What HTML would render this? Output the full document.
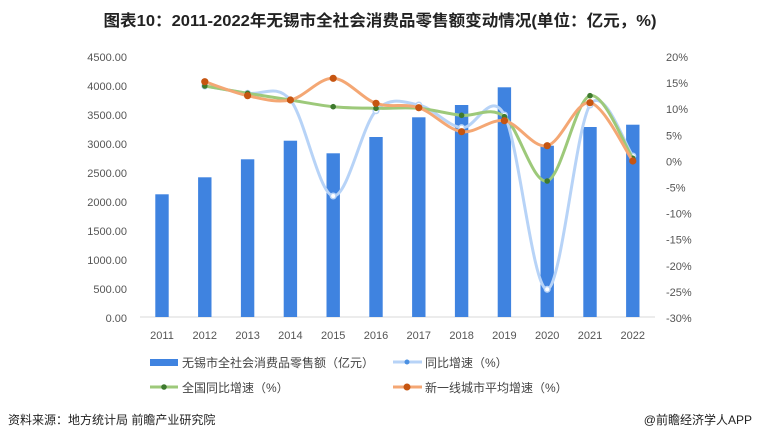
<!DOCTYPE html>
<html><head><meta charset="utf-8"><style>
body{margin:0;background:#fff;width:760px;height:441px;overflow:hidden;font-family:"Liberation Sans","Noto Sans CJK SC",sans-serif;}
</style></head><body>
<svg id="s" width="760" height="441" xmlns="http://www.w3.org/2000/svg" font-family="Liberation Sans, Noto Sans CJK SC, sans-serif">
<text x="380" y="26" text-anchor="middle" font-size="16" font-weight="bold" fill="#222" textLength="553" lengthAdjust="spacingAndGlyphs">图表10：2011-2022年无锡市全社会消费品零售额变动情况(单位：亿元，%)</text>
<g font-size="11" fill="#555" text-anchor="end">
<text x="127" y="61">4500.00</text><text x="127" y="90">4000.00</text><text x="127" y="119">3500.00</text><text x="127" y="148">3000.00</text><text x="127" y="177">2500.00</text><text x="127" y="206">2000.00</text><text x="127" y="235">1500.00</text><text x="127" y="264">1000.00</text><text x="127" y="293">500.00</text><text x="127" y="322">0.00</text>
</g>
<g font-size="11" fill="#555" text-anchor="start" id="r"></g>
<g font-size="11" fill="#555" text-anchor="middle" id="xl"></g>
<line x1="140" y1="317" x2="655" y2="317" stroke="#d9d9d9"/>
<g id="bars" fill="#3f83e0"></g>
<g id="lines"></g>
<g font-size="12" fill="#444">
<rect x="150" y="359" width="28" height="7" fill="#3f83e0"/>
<text x="182" y="367">无锡市全社会消费品零售额（亿元）</text>
<line x1="393" y1="362" x2="422" y2="362" stroke="#b7d3f7" stroke-width="3"/><circle cx="407" cy="362" r="2.5" fill="#4a90e2"/>
<text x="425" y="367">同比增速（%）</text>
<line x1="150" y1="387" x2="178" y2="387" stroke="#9dc97a" stroke-width="3"/><circle cx="164" cy="387" r="2.8" fill="#3e7a2e"/>
<text x="182" y="392">全国同比增速（%）</text>
<line x1="393" y1="387" x2="422" y2="387" stroke="#f4a774" stroke-width="3"/><circle cx="407" cy="387" r="3.5" fill="#c65511"/>
<text x="425" y="392">新一线城市平均增速（%）</text>
</g>
<text x="8" y="424" font-size="12" fill="#222">资料来源：地方统计局 前瞻产业研究院</text>
<text x="752" y="424" font-size="12" fill="#222" text-anchor="end">@前瞻经济学人APP</text>
</svg>
<script>
var NS="http://www.w3.org/2000/svg";
function el(p,t,a,txt){var e=document.createElementNS(NS,t);for(var k in a)e.setAttribute(k,a[k]);if(txt!==undefined)e.textContent=txt;document.getElementById(p).appendChild(e);return e;}
var rl=["20%","15%","10%","5%","0%","-5%","-10%","-15%","-20%","-25%","-30%"];
rl.forEach(function(t,i){el("r","text",{x:666,y:61+i*26.1},t);});
var X=function(i){return 162+i*42.8;};
for(var i=0;i<12;i++)el("xl","text",{x:X(i),y:339},2011+i);
var tops=[194.3,177.3,159.3,140.7,153.3,137,117.3,105,87.3,145.7,127,124.7];
tops.forEach(function(t,i){el("bars","rect",{x:X(i)-6.7,y:t,width:13.4,height:317-t});});
function path(ys){var p=ys.map(function(y,i){return [X(i+1),y];});var d="M"+p[0][0]+","+p[0][1];
for(var i=0;i<p.length-1;i++){var p0=p[i-1]||p[i],p1=p[i],p2=p[i+1],p3=p[i+2]||p2;
var c1=[p1[0]+(p2[0]-p0[0])/6,p1[1]+(p2[1]-p0[1])/6],c2=[p2[0]-(p3[0]-p1[0])/6,p2[1]-(p3[1]-p1[1])/6];
d+=" C"+c1+" "+c2+" "+p2;}return {d:d,p:p};}
var blue=[86,93.3,100,196,110.7,105,127.7,115,289.3,105,156];
var green=[86,93.3,100,106.7,108.3,108.3,115.3,116.7,181,95.7,158.3];
var orange=[81.7,95.7,100,78.3,103.3,107.7,131.7,120.7,145.7,102.7,161];
var b=path(blue);el("lines","path",{d:b.d,fill:"none",stroke:"#b7d3f7","stroke-width":3});
b.p.forEach(function(q){el("lines","circle",{cx:q[0],cy:q[1],r:2.8,fill:"#fff",stroke:"#b7d3f7","stroke-width":1.5});});
var g=path(green);el("lines","path",{d:g.d,fill:"none",stroke:"#9dc97a","stroke-width":3});
g.p.forEach(function(q){el("lines","circle",{cx:q[0],cy:q[1],r:2.8,fill:"#3e7a2e"});});
var o=path(orange);el("lines","path",{d:o.d,fill:"none",stroke:"#f4a774","stroke-width":3});
o.p.forEach(function(q){el("lines","circle",{cx:q[0],cy:q[1],r:3.6,fill:"#c65511"});});
</script>
</body></html>
